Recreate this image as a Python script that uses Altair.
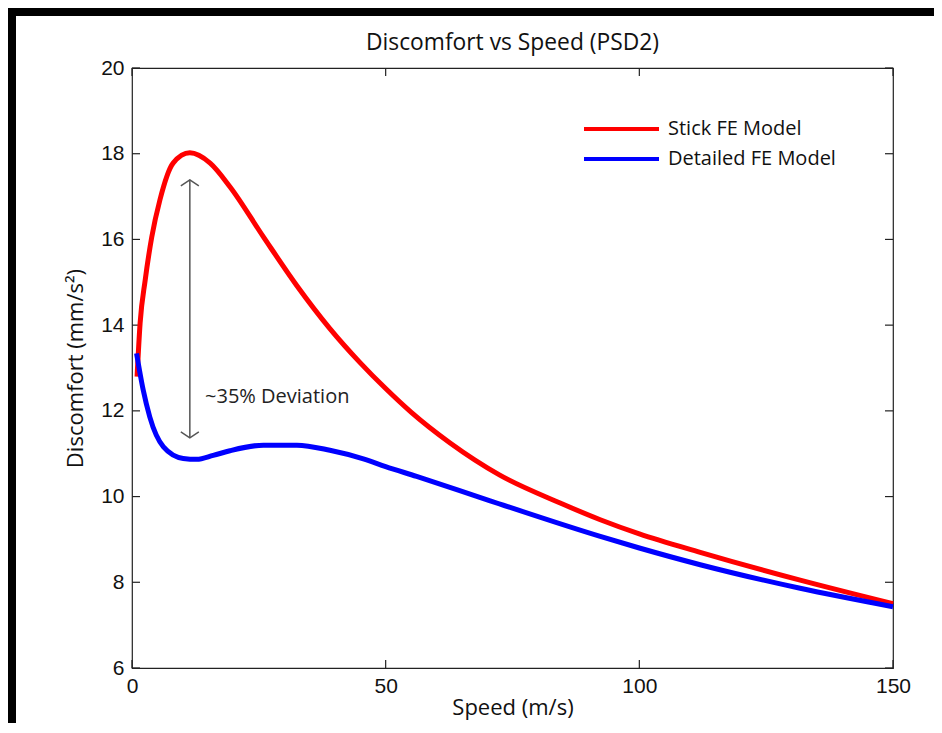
import altair as alt
import pandas as pd

# ---- data ----
stick_x = [1.0, 1.6, 2.6, 3.9, 5.5, 8.1, 11.4, 15.4, 19.3, 25.9, 32.5, 39.0, 45.0,
           50.0, 55.0, 62.7, 72.5, 84.4, 92.3, 100.0, 112.0, 131.7, 150.0]
stick_y = [12.8, 14.05, 15.05, 16.06, 16.92, 17.78, 18.02, 17.78, 17.23, 16.06, 14.92,
           13.92, 13.12, 12.52, 11.97, 11.25, 10.5, 9.85, 9.46, 9.13, 8.7, 8.05, 7.5]

det_x = [0.9, 2.2, 3.5, 6.2, 10.1, 12.75, 16.0, 19.3, 25.9, 32.5, 39.0, 45.6, 50.0,
         56.1, 70.6, 92.3, 100.0, 112.0, 131.7, 150.0]
det_y = [13.34, 12.49, 11.86, 11.16, 10.89, 10.87, 10.96, 11.07, 11.2, 11.2, 11.08,
         10.88, 10.7, 10.47, 9.9, 9.07, 8.8, 8.41, 7.86, 7.43]

series = ["Stick FE Model", "Detailed FE Model"]
colors = ["#ff0000", "#0000ff"]

x_ticks = [0, 50, 100, 150]
y_ticks = [6, 8, 10, 12, 14, 16, 18, 20]

arrow_x = [11.4]
arrow_y = [11.37, 17.39]
note = ["~35% Deviation"]
note_x = [14.4]
note_y = [12.32]

title = ["Discomfort vs Speed (PSD2)"]
x_title = "Speed (m/s)"
y_title = "Discomfort (mm/s\u00b2)"

# ---- layout ----
W, H = 761, 600
PAD = {"left": 124, "top": 60, "right": 41, "bottom": 55}
TXT = "Open Sans"
NUM = "Liberation Sans"
INK = "#111111"

lines_df = pd.concat([
    pd.DataFrame({"x": stick_x, "y": stick_y, "model": series[0]}),
    pd.DataFrame({"x": det_x, "y": det_y, "model": series[1]}),
])

xs = alt.Scale(domain=[0, 150], nice=False, zero=False)
ys = alt.Scale(domain=[6, 20], nice=False, zero=False)

x_axis = alt.Axis(values=x_ticks, title=x_title, domain=False, ticks=False, tickSize=0,
                  grid=False, labelPadding=7, titlePadding=1, format="d", labelFlush=False,
                  titleFontSize=22)
y_axis = alt.Axis(values=y_ticks, title=y_title, domain=False, ticks=False, tickSize=0,
                  grid=False, labelPadding=8, titlePadding=13, format="d", labelFlush=False,
                  titleFontSize=22)

X = alt.X("x:Q", scale=xs, axis=x_axis)
Y = alt.Y("y:Q", scale=ys, axis=y_axis)

lines = alt.Chart(lines_df).mark_line(strokeWidth=5, interpolate="monotone").encode(
    x=X, y=Y,
    color=alt.Color("model:N", sort=series,
                    scale=alt.Scale(domain=series, range=colors),
                    legend=alt.Legend(orient="none", legendX=450, legendY=46, title=None,
                                      symbolType="stroke", symbolStrokeWidth=4,
                                      symbolSize=5625, labelFont=TXT, labelFontSize=20,
                                      labelColor=INK, labelOffset=7, padding=0,
                                      rowPadding=0, clipHeight=30, labelLimit=400)),
)

ytick_df = pd.DataFrame({"y": y_ticks})
xtick_df = pd.DataFrame({"x": x_ticks})
tick_style = dict(color="#222222", strokeWidth=1.2)
ytl = alt.Chart(ytick_df).mark_rule(**tick_style).encode(y=Y, x=alt.value(0), x2=alt.value(8))
ytr = alt.Chart(ytick_df).mark_rule(**tick_style).encode(y=Y, x=alt.value(W - 8), x2=alt.value(W))
xtb = alt.Chart(xtick_df).mark_rule(**tick_style).encode(x=X, y=alt.value(H - 8), y2=alt.value(H))
xtt = alt.Chart(xtick_df).mark_rule(**tick_style).encode(x=X, y=alt.value(0), y2=alt.value(8))

arrow_df = pd.DataFrame({"x": arrow_x * 2, "y": arrow_y})
arrow_line = alt.Chart(arrow_df).mark_line(color="#555555", strokeWidth=1.5).encode(x=X, y=Y)
head_top = alt.Chart(pd.DataFrame({"x": arrow_x, "y": [max(arrow_y)]})).mark_point(
    shape="M-1,0.67L0,0L1,0.67", size=324, filled=False, color="#555555", strokeWidth=1.5,
    opacity=1).encode(x=X, y=Y)
head_bot = alt.Chart(pd.DataFrame({"x": arrow_x, "y": [min(arrow_y)]})).mark_point(
    shape="M-1,-0.67L0,0L1,-0.67", size=324, filled=False, color="#555555", strokeWidth=1.5,
    opacity=1).encode(x=X, y=Y)

note_layer = alt.Chart(pd.DataFrame({"x": note_x, "y": note_y, "t": note})).mark_text(
    align="left", baseline="middle", font=TXT, fontSize=20, color="#222222").encode(
    x=X, y=Y, text="t:N")

# chart title, drawn as a text mark centred above the plot
title_layer = alt.Chart(pd.DataFrame({"t": title})).mark_text(
    align="center", baseline="middle", font=TXT, fontSize=22.8, color=INK).encode(
    x=alt.value(W / 2), y=alt.value(-25), text="t:N")

# window frame (thick black border at top and left)
one = pd.DataFrame({"k": [0]})
frame_left = alt.Chart(one).mark_rect(color="#000000").encode(
    x=alt.value(-PAD["left"]), x2=alt.value(-PAD["left"] + 8),
    y=alt.value(-PAD["top"]), y2=alt.value(H + PAD["bottom"]))
frame_top = alt.Chart(one).mark_rect(color="#000000").encode(
    x=alt.value(-PAD["left"]), x2=alt.value(W + PAD["right"]),
    y=alt.value(-PAD["top"]), y2=alt.value(-PAD["top"] + 8))

chart = alt.layer(
    frame_left, frame_top, title_layer, ytl, ytr, xtb, xtt, arrow_line, head_top, head_bot,
    note_layer, lines,
).properties(
    width=W, height=H, autosize="none", padding=PAD, background="white",
).configure_view(
    stroke="#222222", strokeWidth=1.2
).configure_axis(
    labelFont=NUM, labelFontSize=21, labelColor=INK,
    titleFont=TXT, titleFontSize=21, titleFontWeight="normal", titleColor=INK,
)

chart.save("out.html", embed_options={"renderer": "svg", "actions": False})
